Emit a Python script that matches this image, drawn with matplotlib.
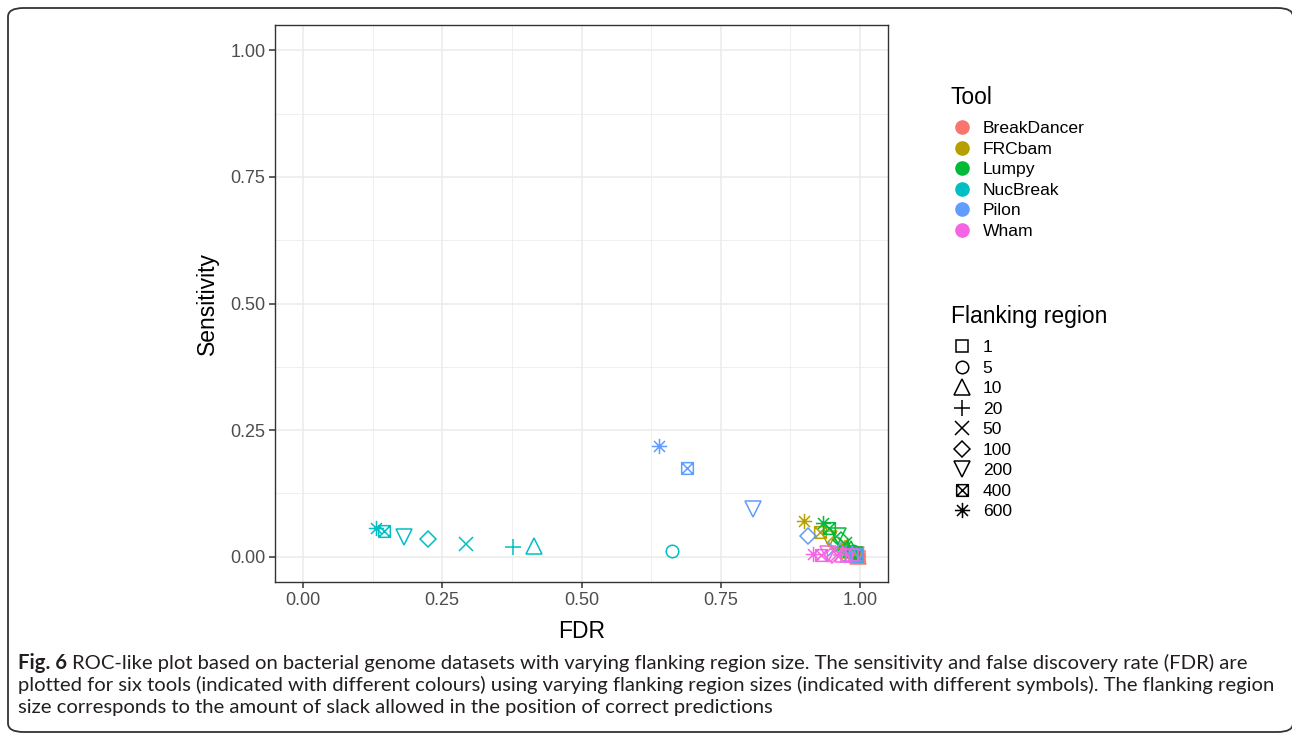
import matplotlib
matplotlib.use("Agg")
import matplotlib.pyplot as plt
from matplotlib.path import Path
from matplotlib.lines import Line2D
from matplotlib.patches import FancyBboxPatch
import numpy as np

plt.rcParams['font.family'] = ['Liberation Sans', 'DejaVu Sans']

# ---------------- data ----------------
tools = ["BreakDancer", "FRCbam", "Lumpy", "NucBreak", "Pilon", "Wham"]
tool_colors = ["#F8766D", "#B79F00", "#00BA38", "#00BFC4", "#619CFF", "#F564E3"]
flanks = ["1", "5", "10", "20", "50", "100", "200", "400", "600"]

# FDR values per tool, ordered as flanks
fdr_breakdancer = [0.998, 0.997, 0.996, 0.995, 0.994, 0.993, 0.992, 0.991, 0.990]
fdr_frcbam      = [0.990, 0.984, 0.978, 0.972, 0.965, 0.955, 0.945, 0.928, 0.900]
fdr_lumpy       = [0.993, 0.988, 0.983, 0.978, 0.972, 0.966, 0.960, 0.944, 0.934]
fdr_nucbreak    = [0.995, 0.662, 0.415, 0.377, 0.293, 0.225, 0.181, 0.145, 0.131]
fdr_pilon       = [0.995, 0.990, 0.985, 0.975, 0.955, 0.907, 0.807, 0.690, 0.639]
fdr_wham        = [0.985, 0.975, 0.970, 0.965, 0.958, 0.950, 0.942, 0.930, 0.915]

# Sensitivity values per tool, ordered as flanks
sens_breakdancer = [0.000, 0.001, 0.001, 0.002, 0.002, 0.003, 0.003, 0.004, 0.005]
sens_frcbam      = [0.006, 0.010, 0.013, 0.017, 0.022, 0.028, 0.035, 0.048, 0.071]
sens_lumpy       = [0.008, 0.012, 0.016, 0.020, 0.026, 0.032, 0.040, 0.057, 0.067]
sens_nucbreak    = [0.002, 0.012, 0.022, 0.020, 0.026, 0.034, 0.039, 0.051, 0.057]
sens_pilon       = [0.004, 0.005, 0.006, 0.008, 0.015, 0.041, 0.095, 0.176, 0.219]
sens_wham        = [0.004, 0.004, 0.005, 0.004, 0.004, 0.004, 0.005, 0.004, 0.005]

fdr_all = [fdr_breakdancer, fdr_frcbam, fdr_lumpy, fdr_nucbreak, fdr_pilon, fdr_wham]
sens_all = [sens_breakdancer, sens_frcbam, sens_lumpy, sens_nucbreak, sens_pilon, sens_wham]

x_ticks = [0.00, 0.25, 0.50, 0.75, 1.00]
y_ticks = [0.00, 0.25, 0.50, 0.75, 1.00]
x_label = "FDR"
y_label = "Sensitivity"

# ---------------- markers ----------------
M, L = Path.MOVETO, Path.LINETO
box_cross = Path([(-1, -1), (1, -1), (1, 1), (-1, 1), (-1, -1), (-1, -1), (1, 1), (-1, 1), (1, -1)],
                 [M, L, L, L, L, M, L, M, L])
a = 0.72
asterisk = Path([(-1, 0), (1, 0), (0, -1), (0, 1), (-a, -a), (a, a), (-a, a), (a, -a)],
                [M, L, M, L, M, L, M, L])
# marker style per flank: (marker, markersize)
marker_styles = [('s', 8.2), ('o', 9.0), ('^', 11.0), ('+', 11.5), ('x', 9.5),
                 ('D', 8.4), ('v', 11.0), (box_cross, 8.4), (asterisk, 11.0)]
mew = 1.1

# ---------------- figure ----------------
W, H = 1292, 736
fig = plt.figure(figsize=(W / 100, H / 100), dpi=100)

# outer rounded frame
frame = FancyBboxPatch((8 / W, 4 / H), (1293 - 8) / W, (728 - 4) / H,
                       boxstyle="round,pad=0,rounding_size=0.012",
                       transform=fig.transFigure, facecolor='none',
                       edgecolor='#333333', linewidth=1.3, zorder=0)
fig.patches.append(frame)

ax = fig.add_axes([275 / W, 1 - 582 / H, (888 - 275) / W, (582 - 25) / H])
ax.set_xlim(-0.05, 1.05)
ax.set_ylim(-0.05, 1.05)

for ti in range(len(tools)):
    for fi in range(len(flanks)):
        mk, ms = marker_styles[fi]
        ax.plot([fdr_all[ti][fi]], [sens_all[ti][fi]], linestyle='none',
                marker=mk, markersize=ms, markerfacecolor='none',
                markeredgecolor=tool_colors[ti], markeredgewidth=mew, zorder=3)

ax.set_xticks(x_ticks)
ax.set_yticks(y_ticks)
ax.set_xticklabels([f"{v:.2f}" for v in x_ticks])
ax.set_yticklabels([f"{v:.2f}" for v in y_ticks])
ax.set_xticks([0.125, 0.375, 0.625, 0.875], minor=True)
ax.set_yticks([0.125, 0.375, 0.625, 0.875], minor=True)
ax.grid(True, which='major', color='#EBEBEB', linewidth=1.1, zorder=0)
ax.grid(True, which='minor', color='#EBEBEB', linewidth=0.55, zorder=0)
ax.set_axisbelow(True)
ax.tick_params(which='major', length=4, width=1.1, color='#333333',
               labelsize=13, labelcolor='#4D4D4D', pad=3)
ax.tick_params(which='minor', length=0)
for s in ax.spines.values():
    s.set_color('#333333')
    s.set_linewidth(1.0)

ax.set_xlabel(x_label, fontsize=16.5, color='black', labelpad=8)
ax.set_ylabel(y_label, fontsize=16.5, color='black', labelpad=8)

# ---------------- legends ----------------
leg_fs = 12.6
title_fs = 16.5
fig.text(951 / W, 1 - 97 / H, "Tool", fontsize=title_fs, ha='left', va='center')
fig.text(951 / W, 1 - 316 / H, "Flanking region", fontsize=title_fs, ha='left', va='center')

tool_handles = [Line2D([], [], linestyle='none', marker='o', markersize=9.5,
                       markerfacecolor=c, markeredgecolor=c) for c in tool_colors]
leg1 = fig.legend(tool_handles, tools, loc='upper left',
                  bbox_to_anchor=(953 / W, 1 - 121 / H), frameon=False,
                  fontsize=leg_fs, handlelength=1.0, handleheight=0.7,
                  handletextpad=0.7, labelspacing=0.30, borderpad=0,
                  borderaxespad=0)

flank_handles = []
for mk, ms in marker_styles:
    flank_handles.append(Line2D([], [], linestyle='none', marker=mk, markersize=ms,
                                markerfacecolor='none', markeredgecolor='black',
                                markeredgewidth=mew))
leg2 = fig.legend(flank_handles, flanks, loc='upper left',
                  bbox_to_anchor=(953 / W, 1 - 340 / H), frameon=False,
                  fontsize=leg_fs, handlelength=1.0, handleheight=0.7,
                  handletextpad=0.7, labelspacing=0.30, borderpad=0,
                  borderaxespad=0)

# ---------------- caption ----------------
cap_color = '#231F20'
cap_font = ['Lato', 'DejaVu Sans']
line1_rest = "ROC-like plot based on bacterial genome datasets with varying flanking region size. The sensitivity and false discovery rate (FDR) are"
line2 = "plotted for six tools (indicated with different colours) using varying flanking region sizes (indicated with different symbols). The flanking region"
line3 = "size corresponds to the amount of slack allowed in the position of correct predictions"

fs = 14.6
x0 = 18 / W
ys = [1 - 663 / H, 1 - 685 / H, 1 - 708 / H]
t_bold = fig.text(x0, ys[0], "Fig. 6", fontsize=fs, fontweight='bold', family=cap_font,
                  color=cap_color, va='center', ha='left')
fig.canvas.draw()
r = fig.canvas.get_renderer()
bb = t_bold.get_window_extent(r)
t1 = fig.text(bb.x1 / W + 5 / W, ys[0], line1_rest, fontsize=fs, family=cap_font,
              color=cap_color, va='center', ha='left')
t2 = fig.text(x0, ys[1], line2, fontsize=fs, family=cap_font, color=cap_color,
              va='center', ha='left')
t3 = fig.text(x0, ys[2], line3, fontsize=fs, family=cap_font, color=cap_color,
              va='center', ha='left')

fig.savefig("out.png", dpi=100)
